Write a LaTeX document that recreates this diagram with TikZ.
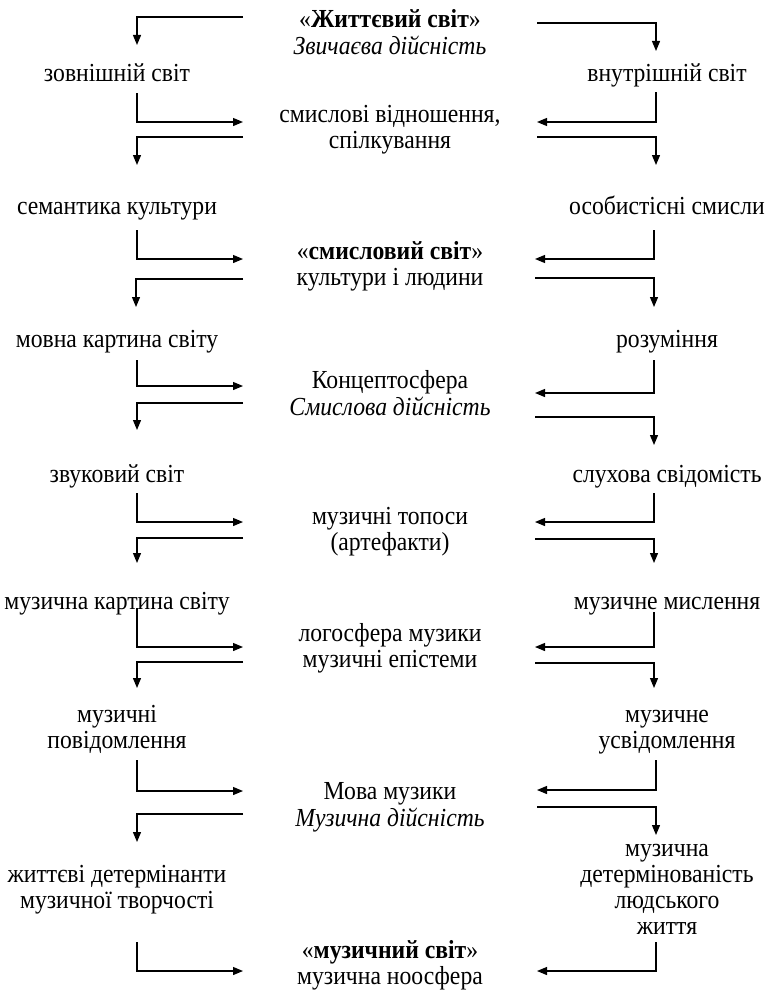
\documentclass[tikz,border=0pt]{standalone}
\usepackage{fontspec}
\setmainfont{Liberation Serif}[FakeStretch=0.91]
\usetikzlibrary{arrows.meta}
\newcommand\sv{\strut}
\begin{document}
\begin{tikzpicture}[x=1pt,y=-1pt,
  conn/.style={line width=1.2pt,-{Triangle[length=10pt,width=8pt]}},
  lbl/.style={align=center,font=\fontsize{26}{26}\selectfont,inner sep=0pt,yshift=-2pt}]
\path[use as bounding box] (0,0) rectangle (765,990);
% centre column
\node[lbl] (c1) at (390,34) {\sv«\textbf{Життєвий світ}»\\\sv\textit{Звичаєва дійсність}};
\node[lbl] (c2) at (390,128.5) {\sv смислові відношення,\\\sv спілкування};
\node[lbl] (c3) at (390,265) {\sv«\textbf{смисловий світ}»\\\sv культури і людини};
\node[lbl] (c4) at (390,395) {\sv Концептосфера\\\sv\textit{Смислова дійсність}};
\node[lbl] (c5) at (390,530) {\sv музичні топоси\\\sv(артефакти)};
\node[lbl] (c6) at (390,647.5) {\sv логосфера музики\\\sv музичні епістеми};
\node[lbl] (c7) at (390,806) {\sv Мова музики\\\sv\textit{Музична дійсність}};
\node[lbl] (c8) at (390,964.5) {\sv«\textbf{музичний світ}»\\\sv музична ноосфера};
% left column
\node[lbl] (l1) at (117,74) {\sv зовнішній світ};
\node[lbl] (l2) at (117,207) {\sv семантика культури};
\node[lbl] (l3) at (117,340) {\sv мовна картина світу};
\node[lbl] (l4) at (117,475) {\sv звуковий світ};
\node[lbl] (l5) at (117,602) {\sv музична картина світу};
\node[lbl] (l6) at (117,728) {\sv музичні\\\sv повідомлення};
\node[lbl] (l7) at (117,888) {\sv життєві детермінанти\\\sv музичної творчості};
% right column
\node[lbl] (r1) at (667,74) {\sv внутрішній світ};
\node[lbl] (r2) at (667,207) {\sv особистісні смисли};
\node[lbl] (r3) at (667,340) {\sv розуміння};
\node[lbl] (r4) at (667,475) {\sv слухова свідомість};
\node[lbl] (r5) at (667,602) {\sv музичне мислення};
\node[lbl] (r6) at (667,728) {\sv музичне\\\sv усвідомлення};
\node[lbl] (r7) at (667,888) {\sv музична\\\sv детермінованість\\\sv людського\\\sv життя};
% connectors
\draw[conn] (243,17) -- (137,17) -- (137,45);
\draw[conn] (537,23) -- (656,23) -- (656,51);
\draw[conn] (137,93) -- (137,122) -- (243,122);
\draw[conn] (656,92) -- (656,122) -- (537,122);
\draw[conn] (243,137) -- (137,137) -- (137,165);
\draw[conn] (537,137) -- (656,137) -- (656,165);
\draw[conn] (137,230) -- (137,259) -- (243,259);
\draw[conn] (654,230) -- (654,259) -- (535,259);
\draw[conn] (243,279) -- (136,279) -- (136,307);
\draw[conn] (535,278) -- (654,278) -- (654,307);
\draw[conn] (137,360) -- (137,386) -- (243,386);
\draw[conn] (654,360) -- (654,393) -- (535,393);
\draw[conn] (243,403) -- (137,403) -- (137,430);
\draw[conn] (535,417) -- (654,417) -- (654,445);
\draw[conn] (137,493) -- (137,522) -- (243,522);
\draw[conn] (654,493) -- (654,522) -- (535,522);
\draw[conn] (243,538) -- (137,538) -- (137,563);
\draw[conn] (535,539) -- (654,539) -- (654,563);
\draw[conn] (137,608) -- (137,647) -- (243,647);
\draw[conn] (654,612) -- (654,647) -- (535,647);
\draw[conn] (243,662) -- (137,662) -- (137,688);
\draw[conn] (535,663) -- (654,663) -- (654,688);
\draw[conn] (137,760) -- (137,791) -- (243,791);
\draw[conn] (656,760) -- (656,790) -- (537,790);
\draw[conn] (243,814) -- (137,814) -- (137,842);
\draw[conn] (537,807) -- (656,807) -- (656,835);
\draw[conn] (137,942) -- (137,971) -- (243,971);
\draw[conn] (656,942) -- (656,971) -- (537,971);
\end{tikzpicture}
\end{document}
